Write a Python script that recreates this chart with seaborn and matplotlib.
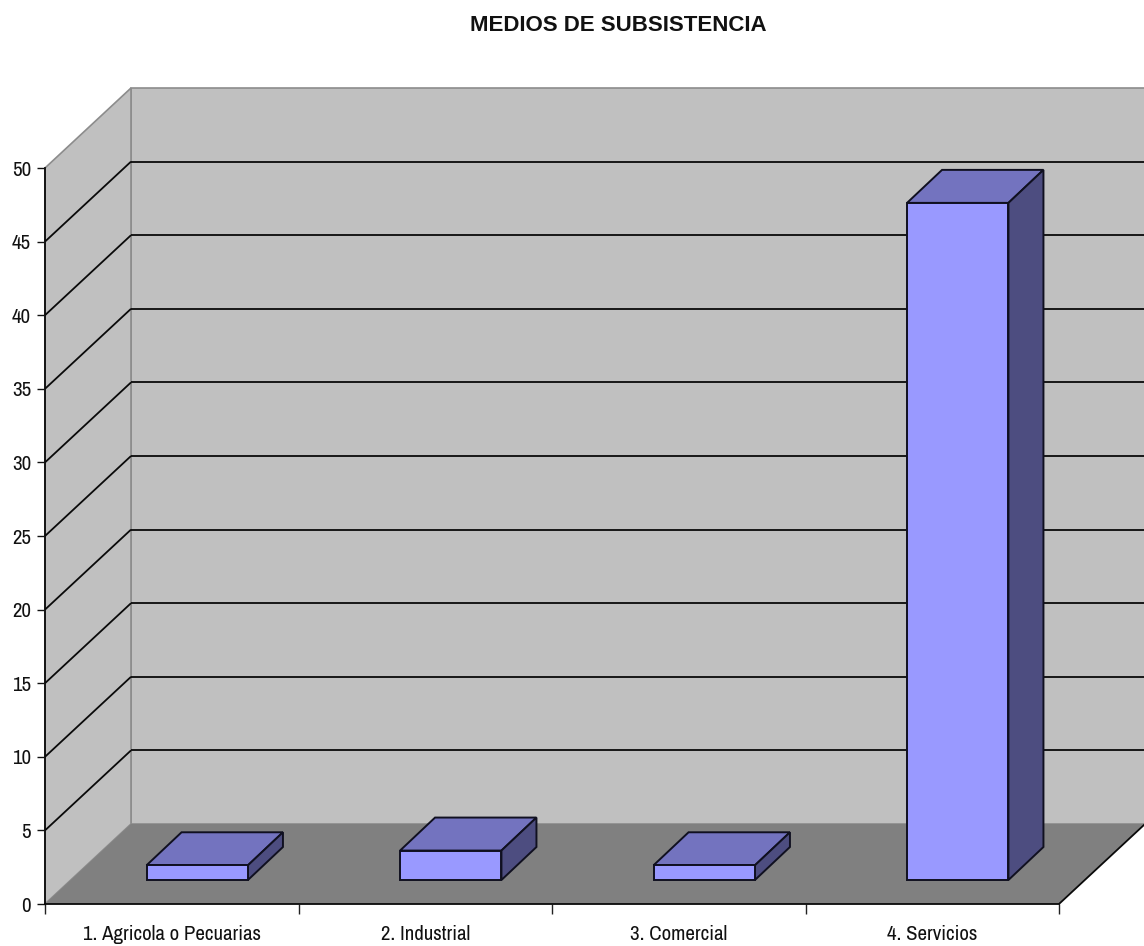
import matplotlib
matplotlib.use("Agg")
import matplotlib.pyplot as plt
from matplotlib.patches import Polygon
import pandas as pd
import seaborn as sns

# Data
categories = ["1. Agricola o Pecuarias", "2. Industrial", "3. Comercial", "4. Servicios"]
values = [1, 2, 1, 46]
y_ticks = [0, 5, 10, 15, 20, 25, 30, 35, 40, 45, 50]
title = "MEDIOS DE SUBSISTENCIA"

# Style
W, H, DPI = 1144, 946, 100
FRONT, TOP, SIDE = "#9999FF", "#7373BF", "#4D4D80"
WALL, FLOOR, WALL_EDGE = "#C0C0C0", "#808080", "#8C8C8C"
INK = "#101020"
TICK_FONT = ["Archivo Narrow", "Roboto Condensed", "Liberation Sans", "DejaVu Sans"]

sns.set_theme(style="white")
fig = plt.figure(figsize=(W / DPI, H / DPI), dpi=DPI, facecolor="white")
L, R, B, T = 45, 1059, 904, 168
ax = fig.add_axes([L / W, (H - B) / H, (R - L) / W, (B - T) / H])
ax.patch.set_visible(False)

df = pd.DataFrame({"cat": categories, "val": values})
sns.barplot(data=df, x="cat", y="val", width=0.4, color=FRONT, saturation=1,
            edgecolor=INK, linewidth=1.4, ax=ax, zorder=6, clip_on=False)

x0, x1 = -0.5, len(categories) - 0.5
y0, y1 = y_ticks[0], y_ticks[-1]
ax.set_xlim(x0, x1)
ax.set_ylim(y0, y1)
px_x = (x1 - x0) / (R - L)   # data units per pixel
px_y = (y1 - y0) / (B - T)


def shifted(px, py):
    return px * px_x, py * px_y


bx, by = shifted(86, 80)      # depth of the chart box
fx, fy = shifted(25.5, 24)    # front face of the bars inside the box
dx, dy = shifted(35, 33)      # bar depth


def poly(points, **kw):
    ax.add_patch(Polygon(points, closed=True, clip_on=False, **kw))


# Walls and floor
poly([(x0 + bx, y0 + by), (x1 + bx, y0 + by), (x1 + bx, y1 + by), (x0 + bx, y1 + by)],
     facecolor=WALL, edgecolor=WALL_EDGE, linewidth=1.2, zorder=1)
poly([(x0, y0), (x0 + bx, y0 + by), (x0 + bx, y1 + by), (x0, y1)],
     facecolor=WALL, edgecolor=WALL_EDGE, linewidth=1.2, zorder=1)
poly([(x0, y0), (x1, y0), (x1 + bx, y0 + by), (x0 + bx, y0 + by)],
     facecolor=FLOOR, edgecolor="none", zorder=2)

# Gridlines on the two walls
line = dict(color="#0A0A0A", linewidth=1.3, clip_on=False, zorder=3,
            solid_capstyle="butt")
for k in y_ticks[1:-1]:
    ax.plot([x0, x0 + bx], [k, k + by], **line)
    ax.plot([x0 + bx, x1 + bx], [k + by, k + by], **line)
ax.plot([x1, x1 + bx], [y0, y0 + by], **line)

# 3D faces of each bar, derived from the bars seaborn drew
for bar in ax.patches[:len(categories)]:
    w, h = bar.get_width(), bar.get_height()
    xa = bar.get_x() + fx
    bar.set_x(xa)
    bar.set_y(fy)
    xb, ya, yb = xa + w, fy, fy + h
    edge = dict(edgecolor=INK, linewidth=1.4, zorder=5)
    poly([(xa, yb), (xb, yb), (xb + dx, yb + dy), (xa + dx, yb + dy)], facecolor=TOP, **edge)
    poly([(xb, ya), (xb + dx, ya + dy), (xb + dx, yb + dy), (xb, yb)], facecolor=SIDE, **edge)

# Axes
for s in ("top", "right"):
    ax.spines[s].set_visible(False)
for s in ("left", "bottom"):
    ax.spines[s].set_linewidth(1.3)
    ax.spines[s].set_color("#0A0A0A")
    ax.spines[s].set_zorder(7)
ax.set_xlabel("")
ax.set_ylabel("")
ax.set_yticks(y_ticks)
ax.set_xticks([i + x0 for i in range(len(categories) + 1)], minor=True)
ax.tick_params(axis="x", which="minor", bottom=True, length=7.5, width=1.0, color="#222222")
ax.tick_params(axis="x", which="major", bottom=False, length=0, pad=15, labelsize=15,
               labelcolor="#111111")
ax.tick_params(axis="y", which="major", left=True, length=6, width=1.0, color="#111111",
               pad=4, labelsize=15, labelcolor="#111111")
for t in ax.get_xticklabels() + ax.get_yticklabels():
    t.set_fontfamily(TICK_FONT)

fig.text(618.5 / W, 1 - 25.5 / H, title, ha="center", va="center", fontsize=16,
         fontweight="bold", family=["Liberation Sans", "DejaVu Sans"], color="#111111")

fig.savefig("out.png", dpi=DPI, facecolor="white")
